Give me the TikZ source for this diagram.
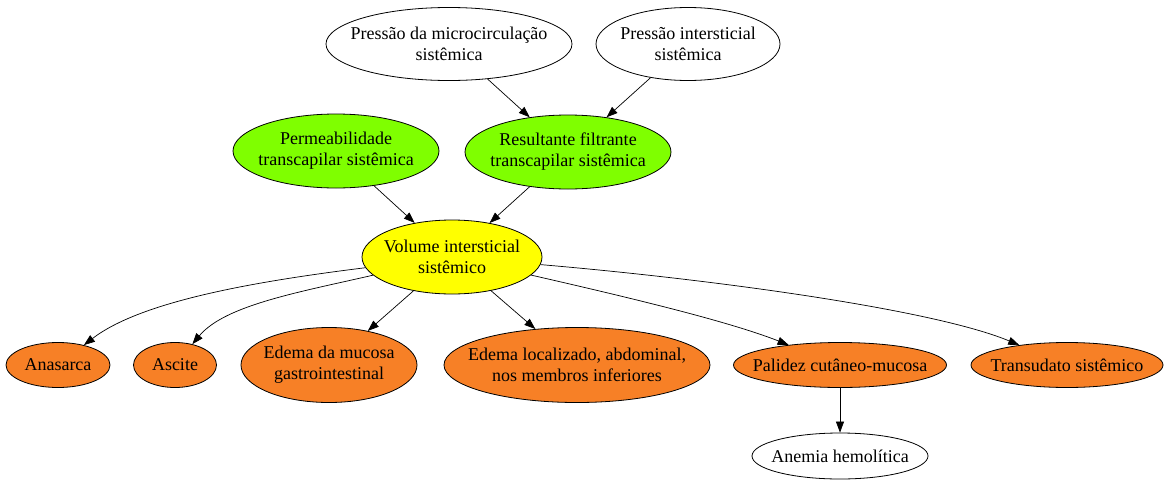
\documentclass[tikz,border=0pt]{standalone}
\usepackage{fontspec}
\setmainfont{Liberation Serif}
\usetikzlibrary{shapes.geometric,arrows.meta}
\definecolor{gGreen}{RGB}{127,255,0}
\definecolor{gYellow}{RGB}{255,255,0}
\definecolor{gOrange}{RGB}{247,128,38}
\tikzset{
  ell/.style={ellipse,draw=black,line width=0.8pt,inner xsep=-200pt,inner ysep=-60pt,align=center,
    font=\fontsize{18}{21}\selectfont},
  wnode/.style={ell,fill=white},
  gnode/.style={ell,fill=gGreen},
  ynode/.style={ell,fill=gYellow},
  onode/.style={ell,fill=gOrange},
  edge/.style={draw=black,line width=0.7pt,-{Triangle[length=11pt,width=8pt]}}
}
\begin{document}
\begin{tikzpicture}[x=1pt,y=-1pt]
\useasboundingbox (0,0) rectangle (1168,485);
\node[wnode,minimum width=246pt,minimum height=73pt] (p1) at (449,44) {Pressão da microcirculação\\sistêmica};
\node[wnode,minimum width=184pt,minimum height=73pt] (p2) at (688,44) {Pressão intersticial\\sistêmica};
\node[gnode,minimum width=206pt,minimum height=74pt] (perm) at (336,151) {Permeabilidade\\transcapilar sistêmica};
\node[gnode,minimum width=206pt,minimum height=74pt] (res) at (568,152) {Resultante filtrante\\transcapilar sistêmica};
\node[ynode,minimum width=180pt,minimum height=74pt] (vol) at (452,257) {Volume intersticial\\sistêmico};
\node[onode,minimum width=104pt,minimum height=45pt] (ana) at (58,365) {Anasarca};
\node[onode,minimum width=83pt,minimum height=45pt] (asc) at (175,365) {Ascite};
\node[onode,minimum width=176pt,minimum height=75pt] (emuc) at (329,365) {Edema da mucosa\\gastrointestinal};
\node[onode,minimum width=266pt,minimum height=75pt] (eloc) at (577,365) {Edema localizado, abdominal,\\nos membros inferiores};
\node[onode,minimum width=213pt,minimum height=45pt] (pal) at (840,365) {Palidez cutâneo-mucosa};
\node[onode,minimum width=192pt,minimum height=45pt] (tra) at (1067,365) {Transudato sistêmico};
\node[wnode,minimum width=176pt,minimum height=46pt] (ane) at (840,456) {Anemia hemolítica};

\draw[edge] (p1) -- (res);
\draw[edge] (p2) -- (res);
\draw[edge] (perm) -- (vol);
\draw[edge] (res) -- (vol);
\draw[edge] (vol) .. controls (250,282) and (140,302) .. (ana);
\draw[edge] (vol) .. controls (300,292) and (225,305) .. (asc);
\draw[edge] (vol) -- (emuc);
\draw[edge] (vol) -- (eloc);
\draw[edge] (vol) .. controls (640,300) and (730,322) .. (pal);
\draw[edge] (vol) .. controls (720,280) and (935,310) .. (tra);
\draw[edge] (pal) -- (ane);
\end{tikzpicture}
\end{document}
